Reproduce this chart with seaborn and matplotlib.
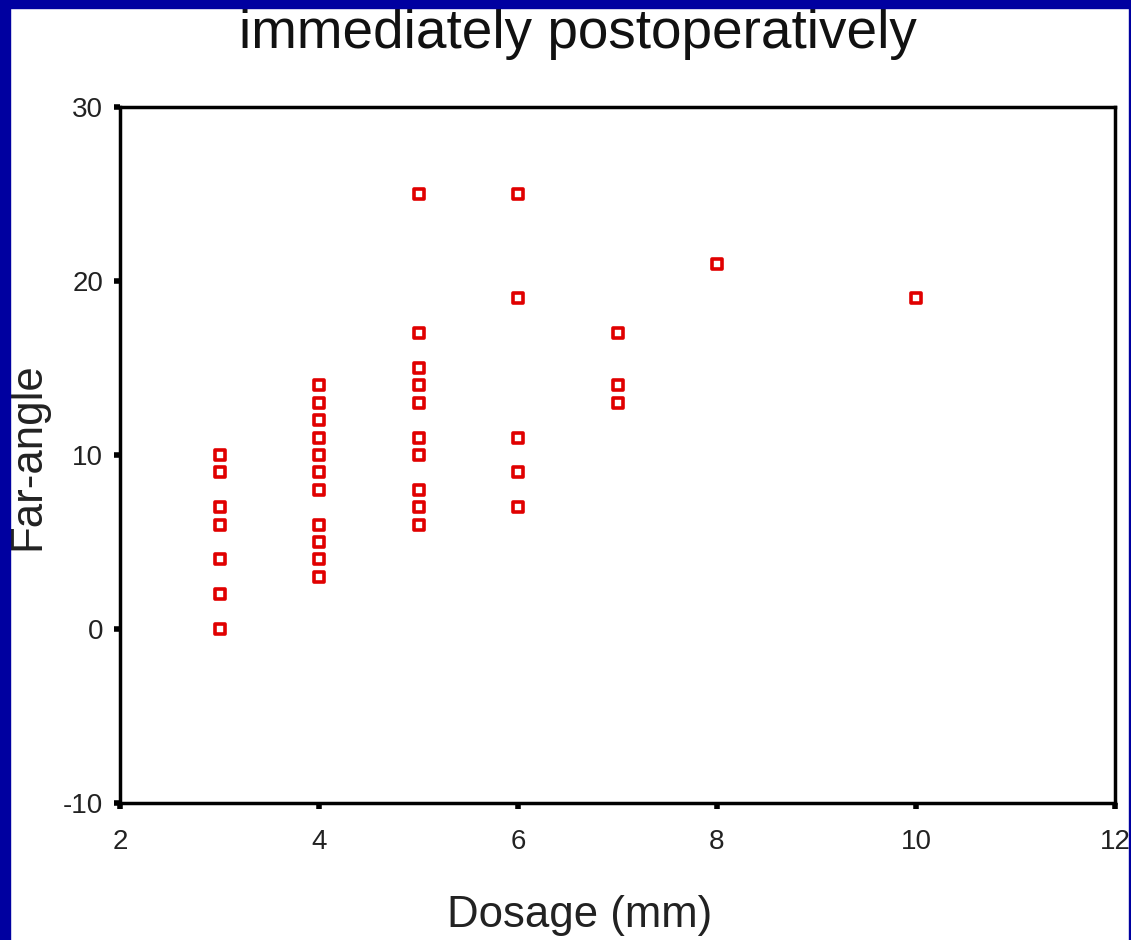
import matplotlib
matplotlib.use("Agg")
import matplotlib.pyplot as plt
from matplotlib.patches import Rectangle
import seaborn as sns
import pandas as pd

# Data
dosage_3 = [10, 9, 7, 6, 4, 2, 0]
dosage_4 = [14, 13, 12, 11, 10, 9, 8, 6, 5, 4, 3]
dosage_5 = [25, 17, 15, 14, 13, 11, 10, 8, 7, 6]
dosage_6 = [25, 19, 11, 9, 7]
dosage_7 = [17, 14, 13]
dosage_8 = [21]
dosage_10 = [19]

groups = {3: dosage_3, 4: dosage_4, 5: dosage_5, 6: dosage_6,
          7: dosage_7, 8: dosage_8, 10: dosage_10}
xs, ys = [], []
for k, vals in groups.items():
    xs += [k] * len(vals)
    ys += vals
df = pd.DataFrame({"Dosage (mm)": xs, "Far-angle": ys})

x_ticks = [2, 4, 6, 8, 10, 12]
y_ticks = [-10, 0, 10, 20, 30]

sns.set_style("white")
plt.rcParams['font.family'] = ['Liberation Sans', 'DejaVu Sans']

fig = plt.figure(figsize=(11.31, 9.40), dpi=100)
ax = fig.add_axes([120/1131, 1 - 803/940, (1115-120)/1131, (803-107)/940])

sns.scatterplot(data=df, x="Dosage (mm)", y="Far-angle", ax=ax, marker="s",
                color="white", edgecolor="#E00000", linewidth=2.6, s=62, zorder=3)

ax.set_xlim(2, 12)
ax.set_ylim(-10, 30)
ax.set_xticks(x_ticks)
ax.set_yticks(y_ticks)
ax.set_xticklabels([str(t) for t in x_ticks], fontsize=20, color="#222222")
ax.set_yticklabels([str(t) for t in y_ticks], fontsize=20, color="#222222")
ax.tick_params(axis="both", direction="out", length=4, width=4, color="black",
               bottom=True, left=True)
ax.tick_params(axis="x", pad=15)
ax.tick_params(axis="y", pad=8)
for sp in ax.spines.values():
    sp.set_linewidth(2.5)
    sp.set_color("black")
    sp.set_visible(True)

ax.set_xlabel("")
ax.set_ylabel("")
fig.text(580/1131, 1 - 915/940, "Dosage (mm)", ha="center", va="center", fontsize=31.5, color="#222222")
fig.text(28/1131, 1 - 456/940, "Far-angle", ha="center", va="center", rotation=90, fontsize=31.5, color="#222222")
fig.text(578/1131, 1 - 48/940, "immediately postoperatively", ha="center", va="baseline", fontsize=39.5, color="#111111")

# Blue frame of the slide
blue = "#0000A0"
fig.patches.append(Rectangle((0, 0), 10/1131, 1, transform=fig.transFigure, color=blue, zorder=10))
fig.patches.append(Rectangle((0, 1 - 8/940), 1, 8/940, transform=fig.transFigure, color=blue, zorder=10))
fig.patches.append(Rectangle((1 - 2/1131, 0), 2/1131, 1, transform=fig.transFigure, color=blue, zorder=10))

fig.savefig("out.png", dpi=100, facecolor="white")
